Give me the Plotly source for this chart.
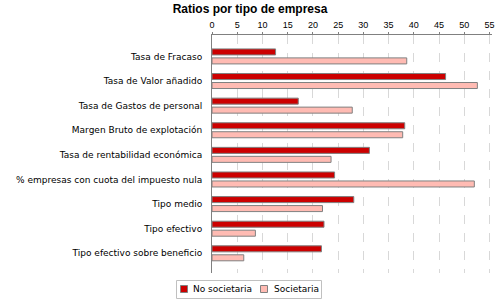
import plotly.graph_objects as go

categories = [
    "Tasa de Fracaso",
    "Tasa de Valor añadido",
    "Tasa de Gastos de personal",
    "Margen Bruto de explotación",
    "Tasa de rentabilidad económica",
    "% empresas con cuota del impuesto nula",
    "Tipo medio",
    "Tipo efectivo",
    "Tipo efectivo sobre beneficio",
]
no_societaria = [12.6, 46.3, 17.1, 38.2, 31.2, 24.3, 28.1, 22.2, 21.7]
societaria = [38.6, 52.6, 27.8, 37.8, 23.6, 52.0, 21.9, 8.6, 6.3]
x_ticks = [0, 5, 10, 15, 20, 25, 30, 35, 40, 45, 50, 55]
series_names = ["No societaria", "Societaria"]
series_colors = ["#CC0000", "#FFBBB3"]

W, H = 500, 300
L, R, T, B = 212, 8, 35, 27
PW, PH = W - L - R, H - T - B


def px_x(X):
    return (X - L) / PW


def px_y(Y):
    return (H - B - Y) / PH


fig = go.Figure()
for name, vals, col in zip(series_names, [no_societaria, societaria], series_colors):
    fig.add_trace(go.Bar(
        name=name, y=categories, x=vals, orientation="h",
        marker=dict(color=col, line=dict(color="#808080", width=1)),
        showlegend=False,
    ))

# legend box drawn in paper coordinates
shapes = [dict(type="rect", xref="paper", yref="paper",
               x0=px_x(176.5), x1=px_x(321.5), y0=px_y(298.5), y1=px_y(280.5),
               line=dict(color="#C0C0C0", width=1), fillcolor="white")]
annotations = []
sw_x = [180.5, 260.5]
txt_x = [191, 272]
for name, col, sx, tx in zip(series_names, series_colors, sw_x, txt_x):
    shapes.append(dict(type="rect", xref="paper", yref="paper",
                       x0=px_x(sx), x1=px_x(sx + 7), y0=px_y(292.5), y1=px_y(285.5),
                       line=dict(color="#808080", width=1), fillcolor=col))
    annotations.append(dict(text=name, xref="paper", yref="paper",
                            x=px_x(tx), y=px_y(289), xanchor="left", yanchor="middle",
                            showarrow=False,
                            font=dict(family="DejaVu Sans", size=9, color="black")))

fig.update_layout(
    width=W, height=H,
    margin=dict(l=L, r=R, t=T, b=B, autoexpand=False),
    paper_bgcolor="white", plot_bgcolor="white",
    barmode="group", bargap=0.27, bargroupgap=0.33,
    title=dict(text="<b>Ratios por tipo de empresa</b>", x=0.5, xanchor="center",
               y=0.97, yanchor="middle", yref="container",
               font=dict(family="Liberation Sans, Arial", size=12, color="black")),
    font=dict(family="DejaVu Sans", size=9, color="black"),
    showlegend=False,
    shapes=shapes, annotations=annotations,
)
fig.update_xaxes(
    side="top", range=[0, 55.5], tickvals=x_ticks,
    showgrid=True, gridcolor="#D8D8D8", griddash="dash", gridwidth=1,
    showline=True, linecolor="#808080", linewidth=1,
    ticks="outside", ticklen=2, tickcolor="#808080",
    zeroline=False, automargin=False,
    tickfont=dict(family="Liberation Sans, Arial", size=9),
)
fig.update_yaxes(
    range=[8.8, -0.87], showgrid=False, zeroline=False,
    showline=True, linecolor="#808080", linewidth=1,
    ticks="", ticklabelstandoff=7, automargin=False,
    tickfont=dict(family="DejaVu Sans", size=9),
)

fig.write_html("out.html", config={"displayModeBar": False},
               post_script="document.body.style.margin='0';document.body.style.overflow='hidden';")
